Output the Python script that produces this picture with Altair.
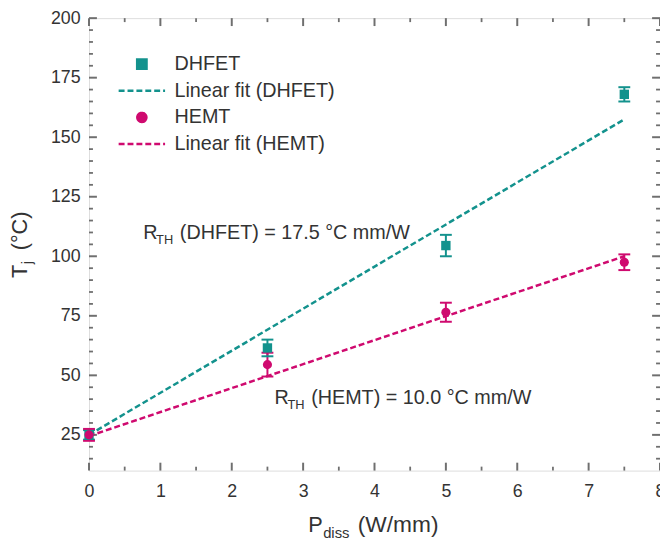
import altair as alt
import pandas as pd

# ---------------- data ----------------
P = [0, 2.5, 5, 7.5]
DHFET_T = [25, 61.5, 104.5, 168]
DHFET_ERR = [2, 3.5, 4.5, 3]
HEMT_T = [25, 54.5, 76.5, 97.5]
HEMT_ERR = [2.5, 5, 4, 3.3]
FIT_P = [0, 7.5]
DHFET_FIT = [25, 157.5]
HEMT_FIT = [24.5, 100]

SERIES = ["DHFET", "Linear fit (DHFET)", "HEMT", "Linear fit (HEMT)"]
COLORS = ["#13928d", "#13928d", "#cf0a6f", "#cf0a6f"]
SHAPES = ["square", "stroke", "circle", "stroke"]
SIZES = [90, 2209, 85, 2209]
DASHES = [[1, 0], [6, 3], [1, 0], [6, 3]]

X_MAJOR = [0, 1, 2, 3, 4, 5, 6, 7, 8]
X_MINOR = [0.5, 1.5, 2.5, 3.5, 4.5, 5.5, 6.5, 7.5]
Y_MAJOR = [25, 50, 75, 100, 125, 150, 175, 200]
Y_MINOR = [15, 20, 30, 35, 40, 45, 55, 60, 65, 70, 80, 85, 90, 95, 105, 110,
           115, 120, 130, 135, 140, 145, 155, 160, 165, 170, 180, 185, 190, 195]

ANN_X = [0.76, 2.60]
ANN_Y = [107.3, 38.0]
ANN_REST = ["(DHFET) = 17.5 \u00b0C mm/W", "(HEMT) = 10.0 \u00b0C mm/W"]

# ---------------- tables ----------------
pts = pd.DataFrame({
    "p": P + P,
    "T": DHFET_T + HEMT_T,
    "err": DHFET_ERR + HEMT_ERR,
    "series": ["DHFET"] * len(P) + ["HEMT"] * len(P),
})
pts["lo"] = pts["T"] - pts["err"]
pts["hi"] = pts["T"] + pts["err"]

fits = pd.DataFrame({
    "p": FIT_P + FIT_P,
    "T": DHFET_FIT + HEMT_FIT,
    "series": ["Linear fit (DHFET)"] * 2 + ["Linear fit (HEMT)"] * 2,
})

ann = pd.DataFrame({"x": ANN_X, "y": ANN_Y, "rest": ANN_REST})

W, H = 578, 458
FONT = "Liberation Sans"
TXT = "#333333"
AX = "#6f6f6f"

XS = alt.Scale(domain=[0, 8], nice=False, zero=False)
YS = alt.Scale(domain=[10, 200], nice=False, zero=False)

LEG = dict(title=None, orient="none", legendX=28.5, legendY=33, padding=0,
           rowPadding=0, clipHeight=27, labelOffset=8, labelFontSize=20,
           labelFont=FONT, labelColor=TXT, symbolStrokeWidth=2.5, labelLimit=400)

color = alt.Color("series:N", scale=alt.Scale(domain=SERIES, range=COLORS),
                  legend=alt.Legend(**LEG))
shape = alt.Shape("series:N", scale=alt.Scale(domain=SERIES, range=SHAPES),
                  legend=alt.Legend(**LEG))
size = alt.Size("series:N", scale=alt.Scale(type="ordinal", domain=SERIES, range=SIZES),
                legend=alt.Legend(**LEG))
dash = alt.StrokeDash("series:N", scale=alt.Scale(domain=SERIES, range=DASHES),
                      legend=alt.Legend(**LEG))


def X(field):
    return alt.X(field, scale=XS, axis=None)


def Y(field):
    return alt.Y(field, scale=YS, axis=None)


# inward frame ticks (drawn through the scales)
xmaj = pd.DataFrame({"v": X_MAJOR})
xmin = pd.DataFrame({"v": X_MINOR})
ymaj = pd.DataFrame({"v": Y_MAJOR})
ymin = pd.DataFrame({"v": Y_MINOR})


def xticks(df, length, width):
    bottom = alt.Chart(df).mark_rule(color=AX, strokeWidth=width).encode(
        x=X("v:Q"), y=alt.value(H), y2=alt.value(H - length))
    top = alt.Chart(df).mark_rule(color=AX, strokeWidth=width).encode(
        x=X("v:Q"), y=alt.value(0), y2=alt.value(length))
    return [bottom, top]


def yticks(df, length, width):
    left = alt.Chart(df).mark_rule(color=AX, strokeWidth=width).encode(
        y=Y("v:Q"), x=alt.value(0), x2=alt.value(length))
    right = alt.Chart(df).mark_rule(color=AX, strokeWidth=width).encode(
        y=Y("v:Q"), x=alt.value(W), x2=alt.value(W - length))
    return [left, right]


tick_layers = (xticks(xmaj, 8, 2) + xticks(xmin, 4, 1.8)
               + yticks(ymaj, 8, 2) + yticks(ymin, 4, 1.8))

x_main = alt.X("p:Q", scale=XS, axis=alt.Axis(
    orient="bottom", values=X_MAJOR, ticks=False, tickSize=0, domain=False,
    grid=False, title=None, labelFontSize=18, labelFont=FONT, labelColor=TXT,
    labelPadding=12, labelFlush=False))
y_main = alt.Y("T:Q", scale=YS, axis=alt.Axis(
    orient="left", values=Y_MAJOR, ticks=False, tickSize=0, domain=False,
    grid=False, title=None, labelFontSize=18, labelFont=FONT, labelColor=TXT,
    labelPadding=9))

lines = alt.Chart(fits).mark_line(strokeWidth=2.5).encode(
    x=X("p:Q"), y=Y("T:Q"), color=color, strokeDash=dash)

rules = alt.Chart(pts).mark_rule(strokeWidth=2).encode(
    x=X("p:Q"), y=Y("lo:Q"), y2="hi:Q", color=color)

cap_lo = alt.Chart(pts).mark_tick(orient="horizontal", size=12, thickness=2,
                                  opacity=1).encode(
    x=X("p:Q"), y=Y("lo:Q"), color=color)
cap_hi = alt.Chart(pts).mark_tick(orient="horizontal", size=12, thickness=2,
                                  opacity=1).encode(
    x=X("p:Q"), y=Y("hi:Q"), color=color)

points = alt.Chart(pts).mark_point(filled=True, opacity=1).encode(
    x=x_main, y=y_main, color=color, shape=shape, size=size)

ann_base = alt.Chart(ann).encode(x=X("x:Q"), y=Y("y:Q"))
ann_r = ann_base.mark_text(text="R", font=FONT, fontSize=20, color=TXT,
                           align="left", baseline="alphabetic")
ann_th = ann_base.mark_text(text="TH", font=FONT, fontSize=13, color=TXT,
                            align="left", baseline="alphabetic", dx=13, dy=5)
ann_rest = ann_base.mark_text(font=FONT, fontSize=20, color=TXT, align="left",
                              baseline="alphabetic", dx=37).encode(text="rest:N")

one = pd.DataFrame({"a": [0]})
tb = alt.Chart(one)
xt1 = tb.mark_text(text="P", font=FONT, fontSize=22, color=TXT, align="left",
                   baseline="alphabetic").encode(x=alt.value(222), y=alt.value(520))
xt2 = tb.mark_text(text="diss", font=FONT, fontSize=15, color=TXT, align="left",
                   baseline="alphabetic", dx=15, dy=6).encode(x=alt.value(222), y=alt.value(520))
xt3 = tb.mark_text(text="(W/mm)", font=FONT, fontSize=23, color=TXT, align="left",
                   baseline="alphabetic", dx=50).encode(x=alt.value(222), y=alt.value(520))
yt1 = tb.mark_text(text="T", font=FONT, fontSize=22, color=TXT, align="left",
                   baseline="alphabetic", angle=270).encode(x=alt.value(-63), y=alt.value(263))
yt2 = tb.mark_text(text="j", font=FONT, fontSize=15, color=TXT, align="left",
                   baseline="alphabetic", angle=270, dx=14, dy=5).encode(x=alt.value(-63), y=alt.value(263))
yt3 = tb.mark_text(text="(\u00b0C)", font=FONT, fontSize=22, color=TXT, align="left",
                   baseline="alphabetic", angle=270, dx=28).encode(x=alt.value(-63), y=alt.value(263))

chart = alt.layer(
    *tick_layers,
    lines, rules, cap_lo, cap_hi, points,
    ann_r, ann_th, ann_rest,
    xt1, xt2, xt3, yt1, yt2, yt3,
).resolve_axis(x="independent", y="independent").properties(
    width=W, height=H,
    autosize=alt.AutoSizeParams(type="none"),
    padding={"left": 82, "top": 7, "right": 0, "bottom": 68},
).configure_view(stroke=AX, strokeWidth=2).configure(background="white")

chart.save("out.html", embed_options={"renderer": "svg", "actions": False})
